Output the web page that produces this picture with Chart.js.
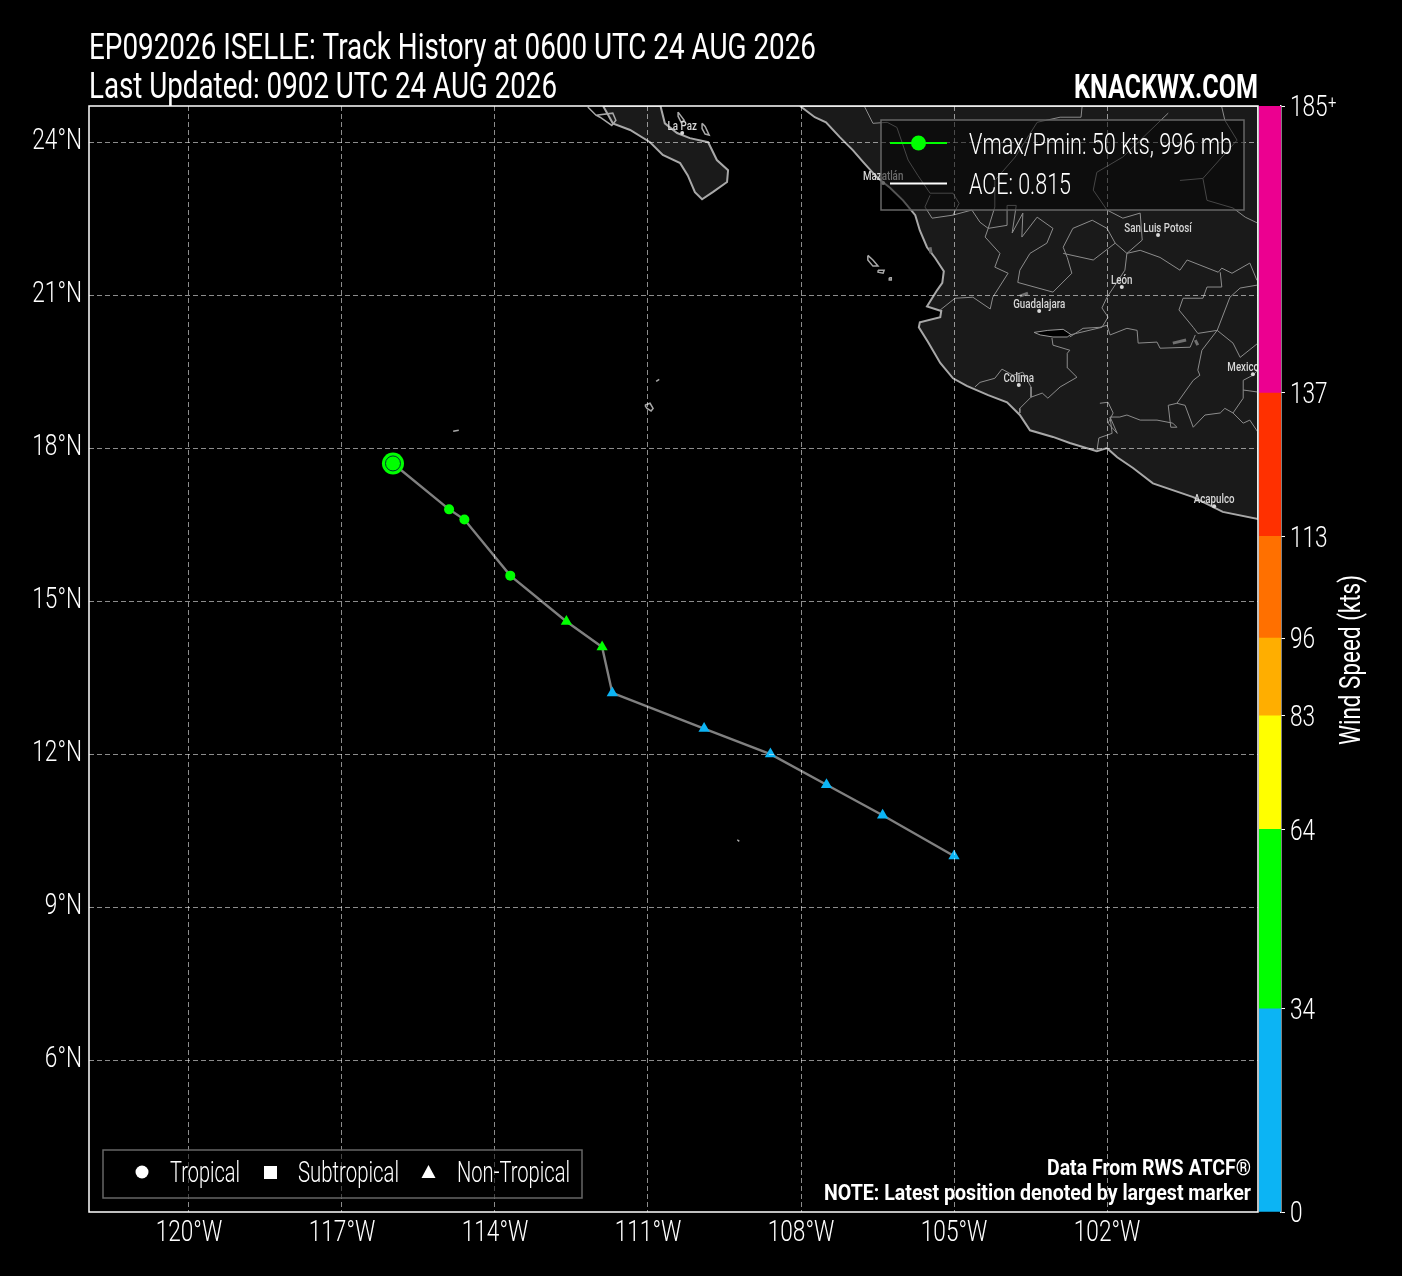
<!DOCTYPE html>
<html>
  <head>
    <meta charset="utf-8">
    <script src="https://cdn.jsdelivr.net/npm/chart.js@4/dist/chart.umd.min.js"></script>
    <style>
      html, body { margin: 0; background: #000; }
      #map { position: absolute; left: 0; top: 0; }
      #bar { position: absolute; left: 1258px; top: 0; }
    </style>
  </head>
  <body>
    <canvas id="map" width="1402" height="1276"></canvas>
    <canvas id="bar" width="144" height="1276"></canvas>
    <script>
      // storm track
      var trackLon = [-116.0, -114.9, -114.6, -113.7, -112.6, -111.9, -111.7, -109.9, -108.6, -107.5, -106.4, -105.0];
      var trackLat = [17.7, 16.8, 16.6, 15.5, 14.6, 14.1, 13.2, 12.5, 12.0, 11.4, 10.8, 10.0];
      var trackWind = [50, 50, 50, 45, 40, 35, 30, 30, 30, 25, 25, 25];
      var trackType = ["circle", "circle", "circle", "circle", "triangle", "triangle", "triangle", "triangle", "triangle", "triangle", "triangle", "triangle"];

      // axes
      var lonTicks = [-120, -117, -114, -111, -108, -105, -102];
      var latTicks = [6, 9, 12, 15, 18, 21, 24];

      // colorbar
      var windEdges = [0, 34, 64, 83, 96, 113, 137, 185];
      var windColors = ["#0cb4f4", "#00ff00", "#ffff00", "#ffae00", "#ff7000", "#ff3000", "#ec0090"];

      // map outlines, in degrees
      var mainLon = [-108.02, -107.73, -107.51, -107.24, -106.98, -106.78, -106.51, -106.25, -106.00, -105.76, -105.67, -105.53, -105.37, -105.20, -105.23, -105.33, -105.53, -105.25, -105.27, -105.67, -105.69, -105.51, -105.27, -105.02, -104.75, -104.33, -103.96, -103.71, -103.51, -103.06, -102.73, -102.20, -102.00, -101.80, -101.49, -101.10, -100.31, -99.73, -99.04, -99.04, -108.02];
      var mainLat = [24.71, 24.49, 24.39, 24.10, 23.84, 23.61, 23.31, 23.10, 22.86, 22.57, 22.27, 21.94, 21.73, 21.47, 21.24, 21.10, 20.78, 20.69, 20.57, 20.47, 20.37, 20.08, 19.67, 19.37, 19.22, 19.04, 18.90, 18.65, 18.35, 18.22, 18.10, 17.94, 18.00, 17.82, 17.61, 17.31, 17.04, 16.75, 16.61, 24.71, 24.71];
      var bajaLon = [-111.88, -111.80, -111.69, -111.35, -110.96, -110.71, -110.37, -110.22, -110.08, -109.94, -109.73, -109.45, -109.43, -109.65, -109.82, -110.18, -110.43, -110.67, -110.75, -110.75, -111.88];
      var bajaLat = [24.71, 24.57, 24.37, 24.24, 24.00, 23.75, 23.59, 23.35, 23.02, 22.88, 23.02, 23.22, 23.45, 23.65, 24.00, 24.08, 24.18, 24.37, 24.69, 24.71, 24.71];
      var chapalaLon = [-103.43, -103.16, -102.86, -102.71, -102.78, -103.06, -103.31, -103.43];
      var chapalaLat = [20.27, 20.31, 20.33, 20.23, 20.18, 20.18, 20.22, 20.27];
      var isleLon = [-112.18, -112.02, -111.94, -111.71, -111.63, -111.69, -112.02, null,
        -110.41, -110.29, -110.35, -110.41, -110.41, null,
        -109.94, -109.88, -109.80, -109.88, -109.94, -109.94, null,
        -106.69, -106.59, -106.49, -106.59, -106.69, -106.69, null,
        -106.49, -106.37, -106.39, -106.49, -106.49, null,
        -106.27, -106.23, -106.23, -106.27, -106.27, null,
        -111.06, -110.96, -110.90, -110.94, -111.02, -111.06, null,
        -110.84, -110.78, null,
        -114.82, -114.71, null,
        -109.25, -109.21];
      var isleLat = [24.69, 24.53, 24.49, 24.33, 24.43, 24.57, 24.53, null,
        24.59, 24.43, 24.39, 24.51, 24.59, null,
        24.37, 24.31, 24.14, 24.16, 24.27, 24.37, null,
        21.78, 21.69, 21.57, 21.57, 21.69, 21.78, null,
        21.49, 21.49, 21.43, 21.45, 21.49, null,
        21.34, 21.34, 21.30, 21.30, 21.34, null,
        18.84, 18.88, 18.78, 18.73, 18.78, 18.84, null,
        19.31, 19.35, null,
        18.33, 18.35, null,
        10.32, 10.29];
      var stateLon = [-106.75, -106.59, -106.31, -106.12, -105.90, -105.71, -105.47, -105.02, -104.90, -105.02, -105.43, -105.57, -105.47, null,
        -105.02, -104.65, -104.49, -104.33, -104.20, -104.20, -103.80, -103.37, -102.92, -102.51, -102.49, null,
        -104.33, -104.39, -104.10, -104.20, -103.94, -104.24, -104.29, -104.63, -104.98, -105.27, null,
        -104.33, -103.96, -103.96, -103.78, -103.86, -103.65, -103.67, -103.37, -103.06, -103.18, -103.51, -103.71, -103.75, -103.06, -102.69, -102.78, -102.86, -102.67, -102.29, -102.00, -101.84, -102.27, -102.86, null,
        -101.61, -101.31, -101.35, -101.69, -102.00, -102.27, -102.20, -101.69, -100.80, null,
        -101.84, -101.61, -101.65, -102.00, -102.10, -101.98, -102.10, -102.73, null,
        -101.61, -101.35, -100.96, -100.57, -100.43, -99.82, -99.75, -99.55, -99.20, -99.06, null,
        -99.78, -99.75, -100.04, -100.12, -100.51, -100.59, -100.31, -100.22, -99.84, -99.59, -99.39, -99.04, null,
        -99.84, -99.53, -99.39, -99.04, null,
        -99.84, -100.14, -100.22, -100.18, -100.31, -100.63, -100.80, -100.75, -100.63, -100.71, -101.02, -101.35, -101.61, -101.75, -101.94, -101.90, -102.16, -102.20, null,
        -100.63, -100.47, -100.31, -100.08, -99.78, -99.69, -99.53, -99.33, -99.20, -99.04, null,
        -99.53, -99.33, -99.33, -99.14, -99.04, null,
        -99.33, -99.04, null,
        -104.59, -104.49, -104.20, -104.06, -103.84, -103.65, -103.49, -103.49, -103.71, -103.71, null,
        -103.49, -103.27, -103.16, -102.92, -102.59, -102.77, -102.78, -102.73, -103.06, -103.08, null,
        -102.73, -102.47, -102.14, -102.00, -101.94, -101.61, -101.41, -101.39, -101.02, -100.96, -100.37, -100.27, null,
        -100.57, -100.12, -100.04, -99.53, -99.29, -99.04, null,
        -100.12, -99.45, -99.69, -99.75, null,
        -102.14, -101.98, -101.88, -101.98, -101.80, -101.94];
      var stateLat = [24.69, 24.37, 24.39, 24.29, 23.65, 23.35, 23.00, 23.00, 22.80, 22.57, 22.51, 22.73, 22.96, null,
        22.57, 22.67, 22.43, 22.31, 22.73, 23.25, 23.71, 24.39, 24.49, 24.49, 24.69, null,
        22.31, 22.14, 21.82, 21.55, 21.43, 20.96, 20.73, 20.96, 20.94, 20.71, null,
        22.31, 22.37, 22.76, 22.76, 22.22, 22.61, 22.14, 22.53, 22.31, 22.02, 21.82, 21.49, 21.25, 21.06, 21.43, 21.74, 21.94, 22.31, 22.47, 22.31, 22.02, 21.69, 21.82, null,
        21.82, 22.08, 22.61, 22.51, 22.67, 23.06, 23.41, 23.71, 24.57, null,
        22.02, 21.82, 21.49, 20.96, 20.75, 20.57, 20.37, 20.22, null,
        21.82, 21.88, 21.74, 21.49, 21.69, 21.45, 21.53, 21.43, 21.63, 21.29, null,
        21.45, 21.16, 21.16, 20.94, 20.94, 20.71, 20.37, 20.25, 20.31, 20.96, 21.14, 21.20, null,
        20.31, 20.06, 19.78, 20.06, null,
        20.31, 19.92, 19.53, 19.43, 19.33, 18.88, 18.84, 18.41, 18.41, 18.49, 18.55, 18.55, 18.65, 18.61, 18.61, 18.29, 18.20, 17.94, null,
        18.88, 18.84, 18.41, 18.65, 18.69, 18.78, 18.69, 18.49, 18.55, 18.31, null,
        18.69, 18.98, 19.33, 19.43, 19.53, null,
        19.14, 19.10, null,
        19.20, 19.29, 19.37, 19.55, 19.43, 19.49, 19.20, 19.00, 18.78, 18.69, null,
        19.00, 19.08, 18.98, 19.20, 19.39, 19.57, 19.86, 19.92, 20.02, 20.16, null,
        20.18, 20.35, 20.37, 20.41, 20.22, 20.35, 20.31, 20.06, 20.08, 19.96, 19.98, 20.22, null,
        23.25, 23.29, 22.86, 22.71, 22.53, 22.41, null,
        23.29, 24.04, 24.43, 24.69, null,
        18.88, 18.90, 18.69, 18.49, 18.29, 18.61];
      var lakeLon = [-100.71, -100.45, null, -100.27, -100.22, null, -103.71, -103.55, null, -105.47, -105.45];
      var lakeLat = [20.06, 20.12, null, 20.12, 20.02, null, 20.98, 21.04, null, 21.94, 21.82];

      // cities
      var cityNames = ["La Paz", "Mazatlán", "San Luis Potosí", "León", "Guadalajara", "Colima", "Mexico City", "Acapulco"];
      var cityLon = [-110.33, -106.39, -101.00, -101.71, -103.33, -103.73, -99.14, -99.90];
      var cityLat = [24.18, 23.20, 22.18, 21.16, 20.69, 19.24, 19.45, 16.86];

      var face = "Roboto, sans-serif";
      var tickSqueeze = 0.78;

      function points(xs, ys) {
        return xs.map(function(x, i) { return { x: x, y: ys[i] }; });
      }

      function windColor(v) {
        for (var i = 0; i < windColors.length; i++) {
          if (v < windEdges[i + 1]) return windColors[i];
        }
        return windColors[windColors.length - 1];
      }

      // no condensed font here, so text without a maxWidth gets squeezed sideways
      function squeezeText(ctx, dy) {
        var fill = ctx.fillText.bind(ctx);
        ctx.fillText = function(text, x, y, maxWidth) {
          if (maxWidth !== undefined) { fill(text, x, y, maxWidth); return; }
          ctx.save();
          ctx.translate(x, y + dy);
          ctx.scale(tickSqueeze, 1);
          fill(text, 0, 0);
          ctx.restore();
        };
        return ctx;
      }

      // frame, title, logo, notes, the two legends and the city names
      var overlay = {
        id: "overlay",
        afterDatasetsDraw: function(chart) {
          var ctx = chart.ctx, a = chart.chartArea;
          ctx.save();
          ctx.beginPath();
          ctx.rect(a.left, a.top, a.width, a.height);
          ctx.clip();
          ctx.fillStyle = "#d8d8d8";
          ctx.font = "500 12.5px " + face;
          ctx.textAlign = "center";
          cityNames.forEach(function(name, i) {
            ctx.fillText(name, chart.scales.x.getPixelForValue(cityLon[i]), chart.scales.y.getPixelForValue(cityLat[i]) - 3);
          });
          ctx.restore();
        },
        afterDraw: function(chart) {
          var ctx = chart.ctx, a = chart.chartArea;
          ctx.save();

          // title
          ctx.fillStyle = "#fff";
          ctx.textBaseline = "middle";
          ctx.font = "37px " + face;
          ctx.fillText("EP092026 ISELLE: Track History at 0600 UTC 24 AUG 2026", 89, 49.5, 727);
          ctx.fillText("Last Updated: 0902 UTC 24 AUG 2026", 89, 88.5, 468);

          // top right legend
          ctx.fillStyle = "rgba(0,0,0,0.5)";
          ctx.strokeStyle = "#666";
          ctx.lineWidth = 1.5;
          ctx.fillRect(881, 120, 363, 90);
          ctx.strokeRect(881, 120, 363, 90);
          ctx.strokeStyle = "#00ff00";
          ctx.lineWidth = 2;
          ctx.beginPath(); ctx.moveTo(890, 143); ctx.lineTo(947, 143); ctx.stroke();
          ctx.fillStyle = "#00ff00";
          ctx.beginPath(); ctx.arc(918.5, 143, 7.5, 0, Math.PI * 2); ctx.fill();
          ctx.strokeStyle = "#fff";
          ctx.beginPath(); ctx.moveTo(890, 183.5); ctx.lineTo(947, 183.5); ctx.stroke();
          ctx.fillStyle = "#fff";
          ctx.font = "300 29px " + face;
          ctx.fillText("Vmax/Pmin: 50 kts, 996 mb", 969, 147, 263);
          ctx.fillText("ACE: 0.815", 969, 187, 102);

          // marker key
          ctx.fillStyle = "rgba(0,0,0,0.5)";
          ctx.strokeStyle = "#666";
          ctx.lineWidth = 1.5;
          ctx.fillRect(103, 1150, 479, 48);
          ctx.strokeRect(103, 1150, 479, 48);
          ctx.fillStyle = "#fff";
          ctx.beginPath(); ctx.arc(142, 1172, 6.5, 0, Math.PI * 2); ctx.fill();
          ctx.fillRect(264, 1166, 13, 13);
          ctx.beginPath(); ctx.moveTo(428.5, 1165); ctx.lineTo(435.5, 1178); ctx.lineTo(421.5, 1178); ctx.closePath(); ctx.fill();
          ctx.fillText("Tropical", 170, 1175, 70);
          ctx.fillText("Subtropical", 298, 1175, 101);
          ctx.fillText("Non-Tropical", 457, 1175, 113);

          // notes
          ctx.textAlign = "right";
          ctx.font = "bold 22px " + face;
          ctx.fillText("Data From RWS ATCF®", 1251, 1169, 204);
          ctx.fillText("NOTE: Latest position denoted by largest marker", 1251, 1194, 427);

          // logo
          ctx.font = "bold 34px " + face;
          ctx.fillText("KNACKWX.COM", 1258, 89.5, 184);

          // plot frame
          ctx.strokeStyle = "#fff";
          ctx.lineWidth = 1.5;
          ctx.strokeRect(a.left, a.top, a.width, a.height);
          ctx.restore();
        }
      };

      new Chart(squeezeText(document.getElementById("map").getContext("2d"), 0), {
        type: "scatter",
        plugins: [overlay],
        data: {
          datasets: [
            {
              // ring inside the latest position
              data: points(trackLon.slice(0, 1), trackLat.slice(0, 1)),
              pointRadius: 7.5, pointBackgroundColor: "transparent", pointBorderColor: "#033", pointBorderWidth: 1, order: 0
            },
            {
              data: points(trackLon, trackLat),
              pointStyle: trackType,
              pointRadius: trackLon.map(function(v, i) { return i === 0 ? 11 : (trackType[i] === "circle" ? 5 : 6.5); }),
              pointBackgroundColor: trackWind.map(windColor),
              pointBorderWidth: 0, order: 1
            },
            {
              data: points(trackLon, trackLat),
              showLine: true, borderColor: "#808080", borderWidth: 2.4, pointRadius: 0, order: 2
            },
            {
              data: points(cityLon, cityLat),
              pointRadius: 2, pointBackgroundColor: "#d8d8d8", pointBorderWidth: 0, order: 3
            },
            {
              data: points(chapalaLon, chapalaLat),
              showLine: true, fill: "shape", backgroundColor: "#000", borderColor: "#9a9a9a", borderWidth: 1, pointRadius: 0, order: 4
            },
            {
              data: points(lakeLon, lakeLat),
              showLine: true, borderColor: "#707070", borderWidth: 3, pointRadius: 0, order: 5
            },
            {
              data: points(stateLon, stateLat),
              showLine: true, borderColor: "#8c8c8c", borderWidth: 1, pointRadius: 0, order: 6
            },
            {
              data: points(isleLon, isleLat),
              showLine: true, borderColor: "#a8a8a8", borderWidth: 1.5, pointRadius: 0, order: 7
            },
            {
              data: points(mainLon, mainLat),
              showLine: true, fill: "shape", backgroundColor: "#1a1a1a", borderColor: "#a8a8a8", borderWidth: 2, pointRadius: 0, order: 8
            },
            {
              data: points(bajaLon, bajaLat),
              showLine: true, fill: "shape", backgroundColor: "#1a1a1a", borderColor: "#a8a8a8", borderWidth: 2, pointRadius: 0, order: 9
            }
          ]
        },
        options: {
          responsive: false,
          devicePixelRatio: 1,
          animation: false,
          layout: { padding: { top: 106, right: 144 } },
          plugins: {
            legend: { display: false },
            tooltip: { enabled: false }
          },
          scales: {
            x: {
              type: "linear",
              min: -121.96,
              max: -99.04,
              afterFit: function(s) { s.height = 64; },
              afterBuildTicks: function(s) { s.ticks = lonTicks.map(function(v) { return { value: v }; }); },
              grid: { z: 1, color: "rgba(255,255,255,0.55)", lineWidth: 1, drawTicks: false },
              border: { display: false, dash: [5, 3] },
              ticks: {
                color: "#fff", padding: 4, maxRotation: 0, autoSkip: false,
                font: { family: face, size: 29, weight: 300 },
                callback: function(v) { return Math.abs(v) + "°W"; }
              }
            },
            y: {
              type: "linear",
              min: 3.02,
              max: 24.71,
              afterFit: function(s) { s.width = 89; },
              afterBuildTicks: function(s) { s.ticks = latTicks.map(function(v) { return { value: v }; }); },
              grid: { z: 1, color: "rgba(255,255,255,0.55)", lineWidth: 1, drawTicks: false },
              border: { display: false, dash: [5, 3] },
              ticks: {
                color: "#fff", padding: 7, autoSkip: false,
                font: { family: face, size: 29, weight: 300 },
                callback: function(v) { return v + "°N"; }
              }
            }
          }
        }
      });

      // colorbar: one stacked bar, one band per wind range
      var barTitle = {
        id: "barTitle",
        afterDraw: function(chart) {
          var ctx = chart.ctx;
          ctx.save();
          ctx.translate(95, 660);
          ctx.rotate(-Math.PI / 2);
          ctx.fillStyle = "#fff";
          ctx.font = "29px " + face;
          ctx.textAlign = "center";
          ctx.textBaseline = "middle";
          ctx.fillText("Wind Speed (kts)", 0, 0, 170);
          ctx.restore();
        }
      };

      new Chart(squeezeText(document.getElementById("bar").getContext("2d"), 3), {
        type: "bar",
        plugins: [barTitle],
        data: {
          labels: ["Wind"],
          datasets: windColors.map(function(c, i) {
            return { data: [windEdges[i + 1] - windEdges[i]], backgroundColor: c, barPercentage: 1, categoryPercentage: 1 };
          })
        },
        options: {
          responsive: false,
          devicePixelRatio: 1,
          animation: false,
          layout: { padding: { left: 1, top: 106, bottom: 64 } },
          plugins: { legend: { display: false }, tooltip: { enabled: false } },
          scales: {
            x: { stacked: true, display: false },
            y: {
              stacked: true,
              position: "right",
              min: 0,
              max: 185,
              afterFit: function(s) { s.width = 121; },
              afterBuildTicks: function(s) { s.ticks = windEdges.map(function(v) { return { value: v }; }); },
              grid: { drawOnChartArea: false, drawTicks: true, tickLength: 4, color: "#fff", lineWidth: 1 },
              border: { display: true, color: "#fff", width: 1.5 },
              ticks: {
                color: "#fff", padding: 5, autoSkip: false,
                font: { family: face, size: 29, weight: 300 },
                callback: function(v) { return v === 185 ? "185⁺" : v; }
              }
            }
          }
        }
      });
    </script>
  </body>
</html>
